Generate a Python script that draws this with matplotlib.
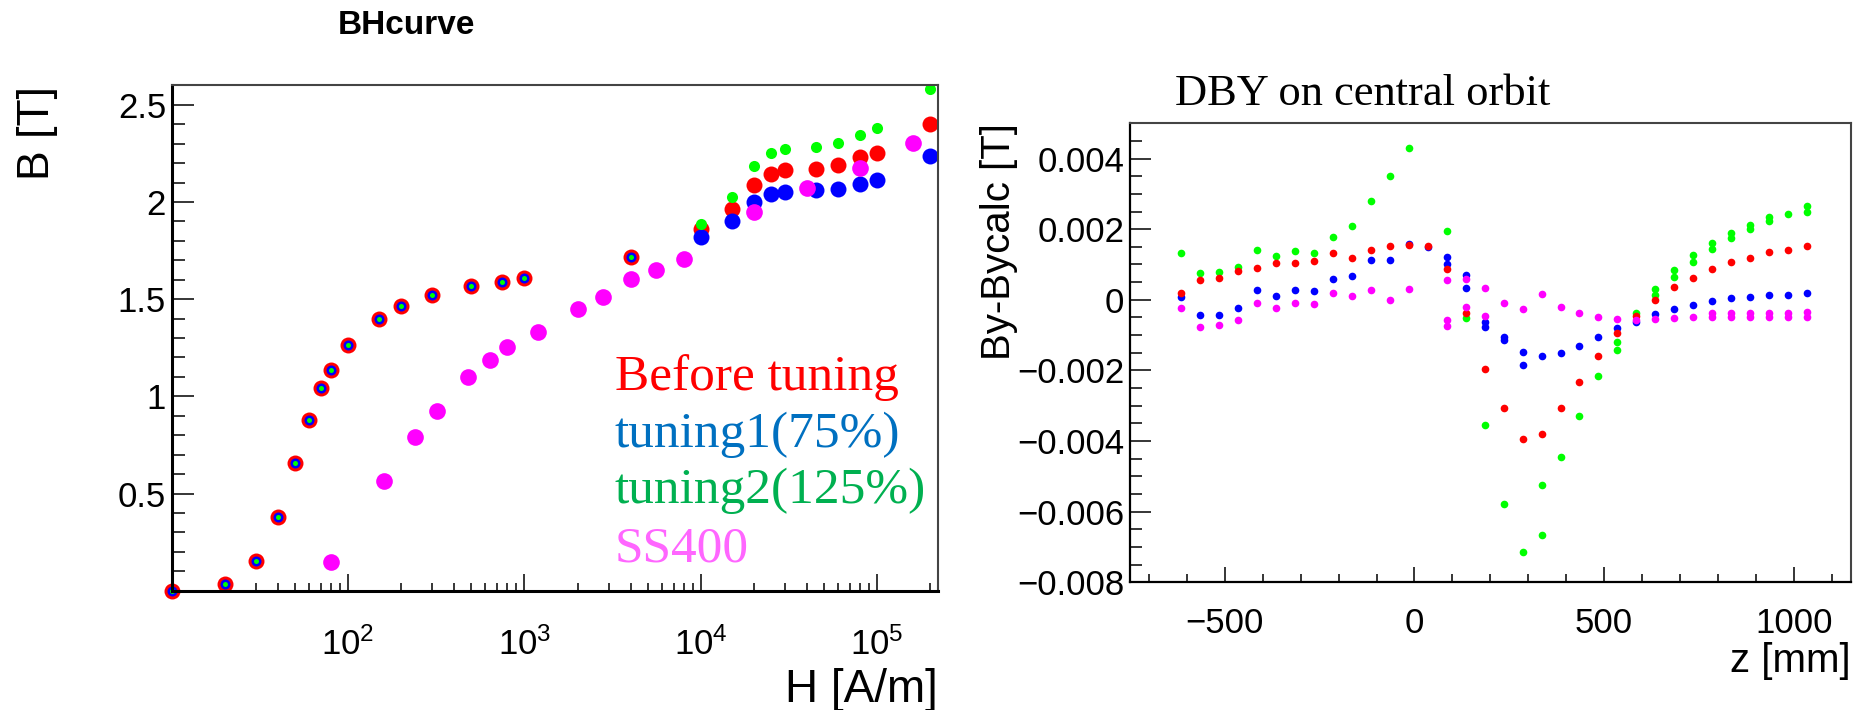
import numpy as np
import matplotlib
matplotlib.use('Agg')
import matplotlib.pyplot as plt
from matplotlib.ticker import MultipleLocator, FixedLocator, NullFormatter, FuncFormatter

plt.rcParams['font.family'] = ['Liberation Sans', 'DejaVu Sans']
plt.rcParams['axes.unicode_minus'] = True

# ---------------------------------------------------------------
# BH curve data (H in A/m, B in T)
# low-field part shared by "before tuning", tuning1 and tuning2
h_common = [10, 20, 30, 40, 50, 60, 70, 80, 100, 150, 200, 300, 500, 750, 1000, 4000]
b_common = [0.0, 0.035, 0.154, 0.381, 0.658, 0.878, 1.044, 1.137, 1.264, 1.398,
            1.466, 1.519, 1.567, 1.590, 1.610, 1.718]

# high-field part, one set per curve
h_high = [10000, 15000, 20000, 25000, 30000, 45000, 60000, 80000, 100000, 200000]
b_before = [1.859, 1.963, 2.085, 2.145, 2.166, 2.168, 2.191, 2.229, 2.250, 2.402]
b_tuning1 = [1.818, 1.902, 1.998, 2.039, 2.052, 2.060, 2.066, 2.090, 2.111, 2.238]
b_tuning2 = [1.886, 2.024, 2.185, 2.250, 2.274, 2.282, 2.305, 2.342, 2.382, 2.579]

h_ss400 = [80, 160, 240, 320, 480, 640, 800, 1200, 2000, 2800, 4000, 5600, 8000,
           20000, 40000, 80000, 160000]
b_ss400 = [0.146, 0.563, 0.792, 0.923, 1.101, 1.188, 1.255, 1.329, 1.450, 1.512,
           1.602, 1.650, 1.705, 1.946, 2.073, 2.176, 2.305]

h_ticks = [1e2, 1e3, 1e4, 1e5]
h_ticklabels = [r'$\mathdefault{10^{2}}$', r'$\mathdefault{10^{3}}$',
                r'$\mathdefault{10^{4}}$', r'$\mathdefault{10^{5}}$']
b_ticks = [0.5, 1.0, 1.5, 2.0, 2.5]

legend_labels = ['Before tuning', 'tuning1(75%)', 'tuning2(125%)', 'SS400']
legend_colors = ['#ff0000', '#0070c0', '#00b050', '#ff66ff']

# ---------------------------------------------------------------
# By - Bycalc along z on the central orbit (By values in mT)
z_red = [-615, -565, -515, -465, -415, -365, -315, -265, -215, -165, -115, -65, -15,
         35, 85, 135, 185, 235, 285, 335, 385, 435, 485, 535, 585, 635, 685, 735,
         785, 835, 885, 935, 985, 1035]
by_red_mT = [0.20, 0.55, 0.63, 0.82, 0.90, 1.03, 1.03, 1.09, 1.33, 1.17, 1.40, 1.51, 1.55,
             1.51, 0.87, -0.38, -1.97, -3.07, -3.94, -3.79, -3.07, -2.32, -1.59, -0.95,
             -0.45, -0.01, 0.37, 0.63, 0.87, 1.06, 1.17, 1.34, 1.40, 1.51]

z_blue = [-615, -565, -515, -465, -415, -365, -315, -265, -215, -165, -115, -65, -15,
          35, 85, 85, 135, 135, 185, 185, 235, 235, 285, 285, 335, 385, 435, 485, 535,
          585, 635, 685, 735, 785, 835, 885, 935, 985, 1035]
by_blue_mT = [0.08, -0.43, -0.43, -0.23, 0.27, 0.10, 0.27, 0.25, 0.59, 0.67, 1.14, 1.14, 1.57,
              1.50, 1.21, 1.02, 0.69, 0.33, -0.62, -0.76, -1.05, -1.15, -1.47, -1.84, -1.58,
              -1.51, -1.30, -1.06, -0.81, -0.62, -0.39, -0.25, -0.16, -0.03, 0.04, 0.08,
              0.15, 0.15, 0.18]

z_green = [-615, -565, -515, -465, -415, -365, -315, -265, -215, -165, -115, -65, -15,
           85, 135, 185, 235, 285, 335, 335, 385, 435, 485, 535, 535, 585, 635, 635,
           685, 685, 735, 735, 785, 785, 835, 835, 885, 885, 935, 935, 985, 1035, 1035]
by_green_mT = [1.33, 0.77, 0.79, 0.93, 1.40, 1.24, 1.39, 1.33, 1.78, 2.08, 2.79, 3.51, 4.30,
               1.96, -0.51, -3.56, -5.78, -7.15, -6.67, -5.25, -4.46, -3.29, -2.16, -1.19,
               -1.42, -0.36, 0.30, 0.13, 0.84, 0.65, 1.26, 1.07, 1.61, 1.45, 1.89, 1.75,
               2.11, 2.00, 2.35, 2.22, 2.44, 2.65, 2.49]

z_magenta = [-615, -565, -515, -465, -415, -365, -315, -265, -215, -165, -115, -65, -15,
             85, 85, 85, 135, 135, 185, 185, 235, 285, 335, 385, 435, 485, 535, 585, 635,
             685, 735, 785, 785, 835, 835, 885, 885, 935, 935, 985, 985, 1035, 1035]
by_magenta_mT = [-0.23, -0.76, -0.72, -0.57, -0.08, -0.23, -0.08, -0.12, 0.18, 0.11, 0.29,
                 -0.01, 0.31, 0.55, -0.57, -0.74, 0.60, -0.20, 0.34, -0.45, -0.10, -0.26,
                 0.16, -0.20, -0.37, -0.48, -0.53, -0.57, -0.53, -0.51, -0.48, -0.37, -0.50,
                 -0.37, -0.50, -0.37, -0.50, -0.37, -0.50, -0.37, -0.50, -0.35, -0.48]

z_ticks = [-500, 0, 500, 1000]
by_ticks = [-0.008, -0.006, -0.004, -0.002, 0.0, 0.002, 0.004]

RED, BLUE, GREEN, MAGENTA = '#ff0000', '#0000ff', '#00ff00', '#ff00ff'

fig = plt.figure(figsize=(18.6, 7.1), dpi=100)
ax1 = fig.add_axes([0.0923, 0.1680, 0.4118, 0.7118])
ax2 = fig.add_axes([0.6075, 0.1799, 0.3875, 0.6465])

# ---------------- left: BH curve ----------------
mk = dict(linestyle='none', marker='o', markeredgewidth=0, clip_on=False)
ax1.plot(h_common, b_common, color=RED, markersize=11.5, **mk)
ax1.plot(h_common, b_common, color=BLUE, markersize=7.2, **mk)
ax1.plot(h_common, b_common, color=GREEN, markersize=3.6, **mk)
ax1.plot(h_high, b_before, color=RED, markersize=11.5, **mk)
ax1.plot(h_high, b_tuning1, color=BLUE, markersize=11.5, **mk)
ax1.plot(h_high, b_tuning2, color=GREEN, markersize=8, **mk)
ax1.plot(h_ss400, b_ss400, color=MAGENTA, markersize=12, **mk)

ax1.set_xscale('log')
ax1.set_xlim(10, 2.2e5)
ax1.set_ylim(0, 2.6)
ax1.xaxis.set_major_locator(FixedLocator(h_ticks))
ax1.set_xticklabels(h_ticklabels)
ax1.xaxis.set_minor_locator(matplotlib.ticker.LogLocator(base=10, subs=np.arange(2, 10), numticks=20))
ax1.xaxis.set_minor_formatter(NullFormatter())
ax1.set_yticks(b_ticks)
ax1.set_yticklabels(['0.5', '1', '1.5', '2', '2.5'])
ax1.yaxis.set_minor_locator(MultipleLocator(0.1))

ax1.tick_params(which='both', direction='in', top=False, right=False, width=1.1)
ax1.tick_params(axis='y', which='major', length=16, pad=4, labelsize=25)
ax1.tick_params(axis='y', which='minor', length=9)
ax1.tick_params(axis='x', which='major', length=12, pad=26, labelsize=25)
ax1.tick_params(axis='x', which='minor', length=6)

for side in ['left', 'bottom']:
    ax1.spines[side].set_linewidth(2.2)
for side in ['top', 'right']:
    ax1.spines[side].set_linewidth(1.5)
    ax1.spines[side].set_color('#444444')

fig.text(0.2183, 0.9634, 'BHcurve', ha='center', va='center', fontsize=24, fontweight='bold')
fig.text(0.0204, 0.879, 'B [T]', rotation=90, ha='center', va='top', fontsize=32)
fig.text(0.5043, 0.0113, 'H [A/m]', ha='right', va='baseline', fontsize=33)

leg_y = [0.4507, 0.3708, 0.2915, 0.2089]
for label, color, y in zip(legend_labels, legend_colors, leg_y):
    fig.text(0.3306, y, label, color=color, ha='left', va='baseline',
             fontsize=37, family='Liberation Serif')

# ---------------- right: By - Bycalc ----------------
mk2 = dict(linestyle='none', marker='o', markeredgewidth=0, markersize=5.5)
ax2.plot(z_green, np.array(by_green_mT) * 1e-3, color=GREEN, **mk2)
ax2.plot(z_blue, np.array(by_blue_mT) * 1e-3, color=BLUE, **mk2)
ax2.plot(z_red, np.array(by_red_mT) * 1e-3, color=RED, **mk2)
ax2.plot(z_magenta, np.array(by_magenta_mT) * 1e-3, color=MAGENTA, **mk2)

ax2.set_xlim(-750, 1150)
ax2.set_ylim(-0.008, 0.005)
ax2.set_xticks(z_ticks)
ax2.xaxis.set_minor_locator(MultipleLocator(100))
ax2.set_yticks(by_ticks)
ax2.yaxis.set_minor_locator(MultipleLocator(0.0005))
ax2.yaxis.set_major_formatter(FuncFormatter(lambda v, p: ('%g' % v).replace('-', '\u2212') if abs(v) > 1e-12 else '0'))
ax2.xaxis.set_major_formatter(FuncFormatter(lambda v, p: ('%g' % v).replace('-', '\u2212')))

ax2.tick_params(which='both', direction='in', top=False, right=False, width=1.1)
ax2.tick_params(axis='y', which='major', length=15, pad=4, labelsize=25)
ax2.tick_params(axis='y', which='minor', length=8.5)
ax2.tick_params(axis='x', which='major', length=11, pad=18, labelsize=25)
ax2.tick_params(axis='x', which='minor', length=6)

for side in ['left', 'bottom']:
    ax2.spines[side].set_linewidth(1.6)
for side in ['top', 'right']:
    ax2.spines[side].set_linewidth(1.5)
    ax2.spines[side].set_color('#444444')

fig.text(0.6317, 0.852, 'DBY on central orbit', ha='left', va='baseline',
         fontsize=32, family='Liberation Serif')
fig.text(0.537, 0.8268, 'By-Bycalc [T]', rotation=90, ha='center', va='top', fontsize=29)
fig.text(0.9952, 0.0535, 'z [mm]', ha='right', va='baseline', fontsize=29)

fig.savefig('out.png', dpi=100)
